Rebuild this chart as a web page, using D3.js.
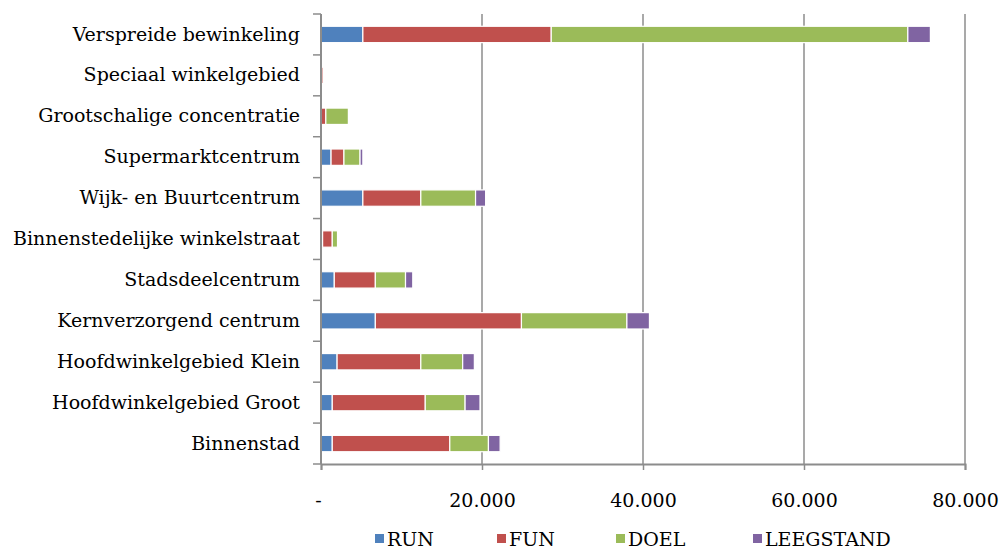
<!DOCTYPE html>
<html>
<head>
<meta charset="utf-8">
<script src="https://cdn.jsdelivr.net/npm/d3@7"></script>
<style>
  html, body { margin: 0; padding: 0; background: #fff; }
  svg { display: block; }
  text { font-family: "DejaVu Serif", "Liberation Serif", serif; fill: #000; }
</style>
</head>
<body>
<svg id="chart" width="1004" height="549"></svg>
<script>
// Winkelvloeroppervlak per type winkelgebied, opgesplitst naar categorie
const categories = [
  "Verspreide bewinkeling",
  "Speciaal winkelgebied",
  "Grootschalige concentratie",
  "Supermarktcentrum",
  "Wijk- en Buurtcentrum",
  "Binnenstedelijke winkelstraat",
  "Stadsdeelcentrum",
  "Kernverzorgend centrum",
  "Hoofdwinkelgebied Klein",
  "Hoofdwinkelgebied Groot",
  "Binnenstad"
];
const seriesNames = ["RUN", "FUN", "DOEL", "LEEGSTAND"];
const run       = [5200,   0,    0, 1250, 5200,  200, 1650,  6750,  2000,  1400,  1400];
const fun       = [23400, 250,  600, 1600, 7200, 1200, 5100, 18150, 10400, 11550, 14600];
const doel      = [44300,   0, 2800, 2000, 6800,  650, 3750, 13100,  5200,  4950,  4800];
const leegstand = [2800,    0,    0,  350, 1250,    0,  900,  2800,  1450,  1850,  1450];
const xTicks = [0, 20000, 40000, 60000, 80000];
const colors = ["#4F81BD", "#C0504D", "#9BBB59", "#8064A2"];

const rows = categories.map((c, i) => ({
  cat: c, RUN: run[i], FUN: fun[i], DOEL: doel[i], LEEGSTAND: leegstand[i]
}));

const svg = d3.select("#chart");
const margin = { left: 321, top: 14, right: 39, bottom: 85 };
const W = 1004, H = 549;
const innerW = W - margin.left - margin.right;
const innerH = H - margin.top - margin.bottom;
const fontSize = 19;

const x = d3.scaleLinear().domain([0, 80000]).range([0, innerW]);
const y = d3.scaleBand().domain(categories).range([0, innerH])
  .paddingInner(0.6).paddingOuter(0.3);
const color = d3.scaleOrdinal().domain(seriesNames).range(colors);

const g = svg.append("g").attr("transform", `translate(${margin.left},${margin.top})`);

// vertical gridlines
g.append("g").selectAll("line")
  .data(xTicks.filter(t => t > 0))
  .join("line")
  .attr("x1", d => x(d)).attr("x2", d => x(d))
  .attr("y1", 0).attr("y2", innerH)
  .attr("stroke", "#8c8c8c").attr("stroke-width", 1.5);

// stacked bars
const stack = d3.stack().keys(seriesNames)(rows);
g.append("g").selectAll("g")
  .data(stack)
  .join("g")
  .attr("fill", d => color(d.key))
  .selectAll("rect")
  .data(d => d.filter(p => p[1] - p[0] > 0))
  .join("rect")
  .attr("x", d => x(d[0]))
  .attr("y", d => y(d.data.cat))
  .attr("width", d => x(d[1]) - x(d[0]))
  .attr("height", y.bandwidth())
  .attr("stroke", "#fff")
  .attr("stroke-width", 1.2);

// category axis
const yAxis = d3.axisLeft(y).tickSize(0).tickPadding(21);
const ya = g.append("g").call(yAxis);
ya.select(".domain").remove();
ya.selectAll("text").attr("font-size", fontSize)
  .style("font-family", '"DejaVu Serif", serif');

// category boundary ticks
g.append("g").selectAll("line")
  .data(d3.range(categories.length + 1))
  .join("line")
  .attr("x1", -8).attr("x2", 0)
  .attr("y1", i => i * innerH / categories.length)
  .attr("y2", i => i * innerH / categories.length)
  .attr("stroke", "#8c8c8c").attr("stroke-width", 1.5);

g.append("line")
  .attr("x1", 0).attr("x2", 0).attr("y1", 0).attr("y2", innerH)
  .attr("stroke", "#8c8c8c").attr("stroke-width", 2);

// value axis
const fmt = v => v === 0 ? "-" : d3.format(",")(v).replace(/,/g, ".");
const xAxis = d3.axisBottom(x).tickValues(xTicks).tickFormat(fmt)
  .tickSize(6).tickPadding(24);
const xa = g.append("g").attr("transform", `translate(0,${innerH})`).call(xAxis);
xa.select(".domain").attr("stroke", "#8c8c8c").attr("stroke-width", 2);
xa.selectAll(".tick line").attr("stroke", "#8c8c8c").attr("stroke-width", 1.5);
xa.selectAll("text").attr("font-size", fontSize)
  .style("font-family", '"DejaVu Serif", serif');
xa.selectAll(".tick").filter(d => d === 0).select("text").attr("dx", -3);

// legend
const legendX = [375, 497, 616, 753];
const legend = svg.append("g").selectAll("g")
  .data(seriesNames)
  .join("g")
  .attr("transform", (d, i) => `translate(${legendX[i]},539)`);
legend.append("rect")
  .attr("x", 0).attr("y", -5).attr("width", 9).attr("height", 9)
  .attr("fill", d => color(d));
legend.append("text")
  .attr("x", 12).attr("y", 0).attr("dy", "0.35em")
  .attr("font-size", fontSize)
  .text(d => d);
</script>
</body>
</html>
